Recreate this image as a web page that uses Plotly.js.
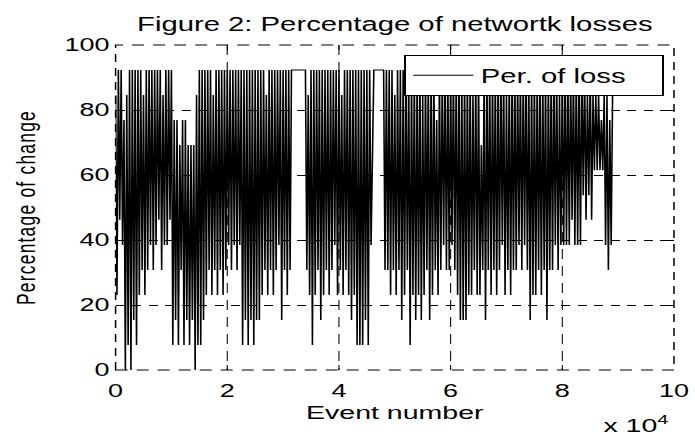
<!DOCTYPE html>
<html><head><meta charset="utf-8">
<script src="https://cdn.plot.ly/plotly-3.0.1.min.js"></script>
<style>
html,body{margin:0;padding:0;overflow:hidden;background:#fff;width:695px;height:439px;}
#chart{width:463px;height:439px;transform:scaleX(1.50108);transform-origin:0 0;}
.ytitle{letter-spacing:1.2px;}
</style></head><body><div id="chart"></div>
<script>
const eventStep = 250;
const lossPart1 = [84.6,23.1,92.3,46.2,92.3,38.5,76.9,0,84.6,7.7,
 92.3,0,92.3,15.4,92.3,7.7,92.3,23.1,92.3,30.8,
 84.6,23.1,92.3,30.8,92.3,38.5,92.3,30.8,92.3,38.5,
 92.3,46.2,92.3,30.8,84.6,38.5,92.3,38.5,92.3,46.2,
 92.3,7.7,76.9,15.4,76.9,7.7,69.2,30.8,76.9,7.7,
 76.9,15.4,69.2,7.7,69.2,15.4,69.2,0,84.6,7.7,
 92.3,7.7,92.3,15.4,92.3,23.1,92.3,30.8,92.3,23.1,
 84.6,30.8,92.3,23.1,92.3,30.8,92.3,23.1,92.3,30.8,
 92.3,38.5,92.3,30.8,92.3,38.5,92.3,30.8,92.3,38.5,
 92.3,7.7,92.3,15.4,92.3,7.7,92.3,15.4,92.3,7.7];
const lossPart2 = [92.3,15.4,92.3,15.4,92.3,23.1,92.3,30.8,84.6,23.1,
 92.3,30.8,92.3,23.1,92.3,30.8,92.3,38.5,92.3,15.4,
 92.3,30.8,92.3,23.1,92.3,30.8,92.3,92.3,92.3,92.3,
 92.3,92.3,92.3,92.3,92.3,92.3,92.3,30.8,84.6,23.1,
 92.3,7.7,92.3,23.1,92.3,30.8,92.3,15.4,92.3,23.1,
 92.3,30.8,92.3,23.1,92.3,30.8,92.3,38.5,92.3,23.1,
 92.3,30.8,84.6,23.1,92.3,30.8,92.3,23.1,92.3,15.4,
 92.3,23.1,92.3,7.7,92.3,7.7,92.3,7.7,92.3,15.4,
 92.3,7.7,92.3,38.5,76.9,92.3,92.3,92.3,92.3,92.3,
 92.3,92.3,92.3,30.8,92.3,30.8,92.3,23.1,92.3,30.8];
const lossPart3 = [84.6,23.1,92.3,30.8,92.3,15.4,92.3,23.1,92.3,30.8,
 92.3,7.7,92.3,23.1,92.3,15.4,92.3,23.1,92.3,15.4,
 84.6,23.1,92.3,30.8,92.3,15.4,92.3,23.1,92.3,30.8,
 76.9,23.1,92.3,30.8,92.3,38.5,92.3,30.8,92.3,30.8,
 92.3,38.5,92.3,30.8,92.3,23.1,92.3,15.4,92.3,15.4,
 92.3,15.4,92.3,23.1,92.3,23.1,84.6,30.8,92.3,23.1,
 92.3,23.1,69.2,30.8,92.3,15.4,92.3,30.8,92.3,23.1,
 92.3,30.8,92.3,23.1,92.3,30.8,92.3,38.5,92.3,23.1,
 84.6,30.8,92.3,23.1,92.3,30.8,92.3,30.8,92.3,38.5,
 92.3,30.8,92.3,38.5,92.3,30.8,92.3,15.4,92.3,23.1];
const lossPart4 = [92.3,23.1,92.3,30.8,92.3,23.1,92.3,30.8,92.3,15.4,
 92.3,30.8,92.3,30.8,92.3,38.5,92.3,30.8,84.6,38.5,
 92.3,38.5,92.3,38.5,92.3,38.5,92.3,46.2,92.3,38.5,
 92.3,38.5,92.3,38.5,92.3,53.8,92.3,46.2,84.6,53.8,
 92.3,46.2,84.6,61.5,84.6,61.5,84.6,61.5,76.9,61.5,
 84.6,38.5,84.6,30.8,76.9,38.5,84.6];

const xTickVals = [0, 20000, 40000, 60000, 80000, 100000];
const xTickText = ['0', '2', '4', '6', '8', '10'];
const yTickVals = [0, 20, 40, 60, 80, 100];
const seriesName = 'Per. of loss';
const chartTitle = 'Figure 2: Percentage of networtk losses';

const lossValues = lossPart1.concat(lossPart2, lossPart3, lossPart4);
const eventNumbers = lossValues.map((v, i) => i * eventStep);

const FONT = 'Liberation Sans, Arial, Helvetica, sans-serif';

const trace = {
  type: 'scatter', mode: 'lines', name: seriesName,
  x: eventNumbers, y: lossValues,
  line: {color: '#000', width: 1.05}
};

const layout = {
  width: 463, height: 439,
  margin: {l: 77, r: 14, t: 45, b: 69},
  paper_bgcolor: '#fff', plot_bgcolor: '#fff',
  font: {family: FONT, color: '#000', size: 18},
  showlegend: true,
  title: {text: chartTitle, font: {size: 19.5, family: FONT, color: '#000'},
          x: 0.5, xref: 'paper', xanchor: 'center', y: 0.9294, yref: 'container', yanchor: 'bottom'},
  xaxis: {
    range: [0, 100000], tickvals: xTickVals, ticktext: xTickText,
    showgrid: true, gridcolor: '#000', gridwidth: 0.7, griddash: '10px,7px',
    zeroline: false, showline: false,
    ticks: 'inside', ticklen: 5, tickcolor: '#000', tickwidth: 0.7, mirror: 'ticks',
    tickfont: {size: 18}, ticklabelstandoff: 8,
    title: {text: 'Event number', font: {size: 19}, standoff: 5}
  },
  yaxis: {
    range: [0, 100], tickvals: yTickVals,
    showgrid: true, gridcolor: '#000', gridwidth: 1, griddash: '6px,5px',
    zeroline: false, showline: false,
    ticks: 'inside', ticklen: 5, tickcolor: '#000', mirror: 'ticks',
    tickfont: {size: 18}, ticklabelstandoff: 3,
    title: {text: 'Percentage of change', font: {size: 17.5}, standoff: 14}
  },
  legend: {
    orientation: 'h', entrywidth: 116, entrywidthmode: 'pixels',
    x: 0.517, y: 0.969, xanchor: 'left', yanchor: 'top',
    bgcolor: '#fff', bordercolor: '#000', borderwidth: 1,
    font: {size: 19.5}, itemwidth: 40
  },
  shapes: [{type: 'rect', xref: 'paper', yref: 'paper', x0: 0, x1: 1, y0: 0, y1: 1,
            line: {color: '#000', width: 1, dash: '8px,6px'}}],
  annotations: [{text: 'x 10<sup>4</sup>', xref: 'paper', yref: 'paper', x: 0.994, xanchor: 'right',
                 y: -0.209, yanchor: 'bottom', showarrow: false, font: {size: 19}}]
};

Plotly.newPlot('chart', [trace], layout, {staticPlot: true, displayModeBar: false});
</script></body></html>
